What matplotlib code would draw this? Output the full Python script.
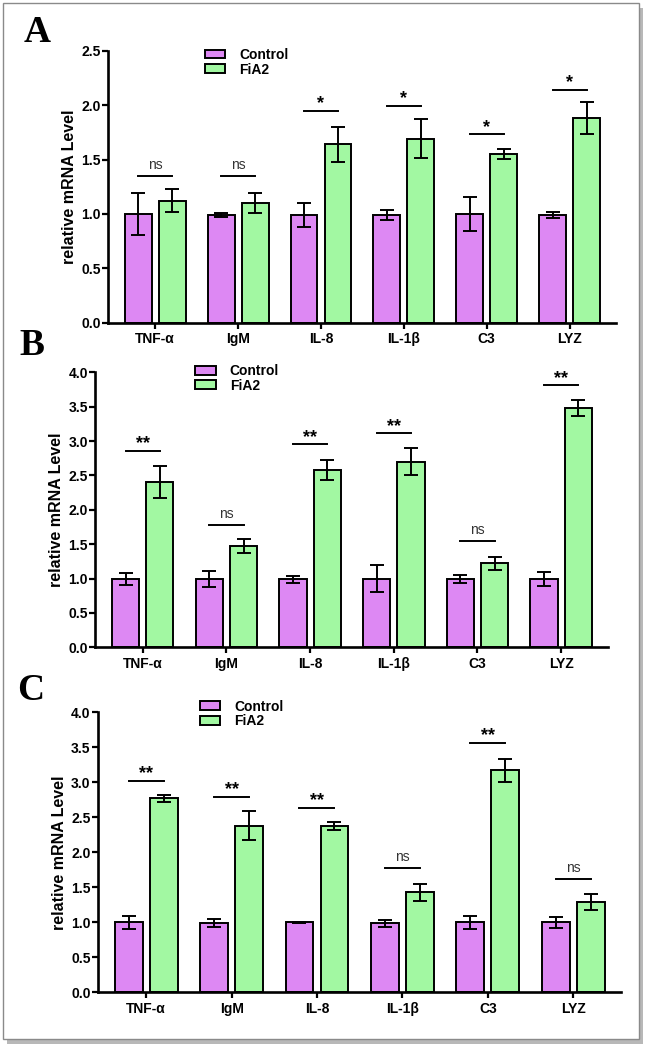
import numpy as np
import matplotlib
matplotlib.use("Agg")
import matplotlib.pyplot as plt
from matplotlib.patches import Rectangle

plt.rcParams['font.family'] = ['Liberation Sans', 'DejaVu Sans']

# --- data ---
genes_a = ["TNF-α", "IgM", "IL-8", "IL-1β", "C3", "LYZ"]
genes_b = ["TNF-α", "IgM", "IL-8", "IL-1β", "C3", "LYZ"]
genes_c = ["TNF-α", "IgM", "IL-8", "IL-1β", "C3", "LYZ"]

ctrl_a = [1.00, 0.99, 0.99, 0.99, 1.00, 0.99]
ctrl_a_err = [0.19, 0.02, 0.11, 0.05, 0.155, 0.03]
fia2_a = [1.12, 1.10, 1.64, 1.69, 1.55, 1.88]
fia2_a_err = [0.105, 0.09, 0.16, 0.18, 0.045, 0.145]
sig_a = ["ns", "ns", "*", "*", "*", "*"]
sig_a_y = [1.35, 1.35, 1.95, 1.99, 1.73, 2.14]

ctrl_b = [0.99, 0.99, 0.99, 1.00, 0.99, 0.99]
ctrl_b_err = [0.09, 0.12, 0.05, 0.19, 0.06, 0.10]
fia2_b = [2.40, 1.47, 2.58, 2.70, 1.22, 3.48]
fia2_b_err = [0.23, 0.10, 0.14, 0.20, 0.09, 0.12]
sig_b = ["**", "ns", "**", "**", "ns", "**"]
sig_b_y = [2.86, 1.78, 2.95, 3.11, 1.54, 3.81]

ctrl_c = [1.00, 0.99, 1.00, 0.99, 1.00, 1.00]
ctrl_c_err = [0.09, 0.06, 0.01, 0.05, 0.09, 0.08]
fia2_c = [2.77, 2.38, 2.38, 1.43, 3.17, 1.29]
fia2_c_err = [0.05, 0.21, 0.06, 0.12, 0.17, 0.11]
sig_c = ["**", "**", "**", "ns", "**", "ns"]
sig_c_y = [3.02, 2.79, 2.64, 1.77, 3.56, 1.62]

CTRL_COLOR = "#DD88F3"
FIA2_COLOR = "#A2F8A2"

fig = plt.figure(figsize=(6.49, 10.49), dpi=100)

# outer frame with a little shadow
W, H = 649, 1049
fig.patches.append(Rectangle((7 / W, 1 - 1044 / H), 636 / W, 1036 / H,
                             transform=fig.transFigure, facecolor="#b8b8b8",
                             edgecolor="none", zorder=-3))
fig.patches.append(Rectangle((3 / W, 1 - 1039 / H), 636 / W, 1036 / H,
                             transform=fig.transFigure, facecolor="white",
                             edgecolor="#8a8a8a", lw=1.0, zorder=-2))


def panel(rect, genes, ctrl, ctrl_err, fia2, fia2_err, sig, sig_y,
          ymax, leg_anchor, letter, letter_pos):
    ax = fig.add_axes(rect)
    ax.patch.set_alpha(0)
    x = np.arange(len(genes))
    w = 0.325
    off = 0.205
    ekw = dict(ecolor="black", elinewidth=1.4, capsize=5, capthick=1.4)
    ax.bar(x - off, ctrl, w, yerr=ctrl_err, color=CTRL_COLOR,
           edgecolor="black", linewidth=1.4, error_kw=ekw, label="Control")
    ax.bar(x + off, fia2, w, yerr=fia2_err, color=FIA2_COLOR,
           edgecolor="black", linewidth=1.4, error_kw=ekw, label="FiA2")

    for xi, s, h in zip(x, sig, sig_y):
        ax.plot([xi - off, xi + off], [h, h], color="black", lw=1.4)
        if s == "ns":
            ax.annotate(s, xy=(xi, h), xytext=(0, 3), textcoords="offset points",
                        ha="center", va="bottom", fontsize=10, color="#333333")
        else:
            ax.annotate(s, xy=(xi, h), xytext=(0, -1), textcoords="offset points",
                        ha="center", va="bottom", fontsize=13, fontweight="bold")

    ax.set_xlim(-0.57, 5.56)
    ax.set_ylim(0, ymax)
    ax.set_yticks(np.arange(0, ymax + 0.01, 0.5))
    ax.set_yticklabels([f"{v:.1f}" for v in np.arange(0, ymax + 0.01, 0.5)])
    ax.set_xticks(x)
    ax.set_xticklabels(genes)
    for lab in ax.get_xticklabels() + ax.get_yticklabels():
        lab.set_fontweight("bold")
    ax.tick_params(axis="y", labelsize=10, width=1.6, length=4, pad=1)
    ax.tick_params(axis="x", labelsize=10, width=1.6, length=4, pad=3)
    ax.spines["top"].set_visible(False)
    ax.spines["right"].set_visible(False)
    ax.spines["left"].set_linewidth(1.9)
    ax.spines["bottom"].set_linewidth(1.9)
    ax.set_ylabel("relative mRNA Level", fontsize=11.5, fontweight="bold",
                  labelpad=3)
    ax.legend(loc="upper left", bbox_to_anchor=leg_anchor, frameon=False,
              prop={"weight": "bold", "size": 10}, handlelength=1.5,
              handleheight=0.6, handletextpad=1.0, labelspacing=0.05,
              borderpad=0, borderaxespad=0)
    fig.text(letter_pos[0], letter_pos[1], letter, fontsize=27,
             fontweight="bold", family="Liberation Serif", ha="left", va="top")
    return ax


panel([108 / W, 1 - 322.7 / H, 508 / W, 272 / H], genes_a, ctrl_a, ctrl_a_err,
      fia2_a, fia2_a_err, sig_a, sig_a_y, 2.5, (0.19, 1.01), "A",
      (24 / W, 1 - 15 / H))
panel([95 / W, 1 - 647.3 / H, 513 / W, 275 / H], genes_b, ctrl_b, ctrl_b_err,
      fia2_b, fia2_b_err, sig_b, sig_b_y, 4.0, (0.195, 1.03), "B",
      (19 / W, 1 - 328 / H))
panel([97.5 / W, 1 - 992.3 / H, 523.5 / W, 280 / H], genes_c, ctrl_c, ctrl_c_err,
      fia2_c, fia2_c_err, sig_c, sig_c_y, 4.0, (0.195, 1.045), "C",
      (17 / W, 1 - 673 / H))

fig.savefig("out.png", dpi=100)
